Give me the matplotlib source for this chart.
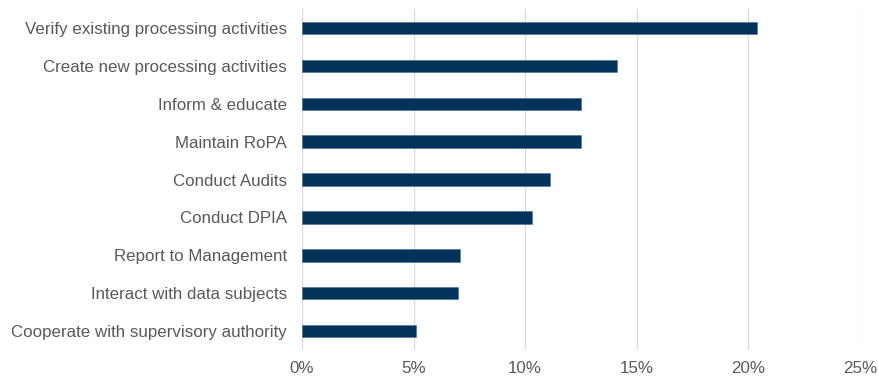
import matplotlib
matplotlib.use('Agg')
import matplotlib.pyplot as plt
from matplotlib.ticker import FuncFormatter

# survey categories, top to bottom
activities = [
    'Verify existing processing activities',
    'Create new processing activities',
    'Inform & educate',
    'Maintain RoPA',
    'Conduct Audits',
    'Conduct DPIA',
    'Report to Management',
    'Interact with data subjects',
    'Cooperate with supervisory authority',
]
shares = [20.4, 14.1, 12.5, 12.5, 11.1, 10.3, 7.1, 7.0, 5.1]
xticks = [0, 5, 10, 15, 20, 25]

plt.rcParams['font.family'] = ['Liberation Sans', 'DejaVu Sans']

fig = plt.figure(figsize=(8.79, 3.79), dpi=100)
ax = fig.add_axes([0.3436, 0.0765, 0.6346, 0.8995])

ypos = list(range(len(activities)))
ax.barh(ypos, shares, height=0.33, color='#03325A', edgecolor='#4a6d8c', linewidth=0.4, zorder=3)

ax.set_ylim(len(activities) - 0.5, -0.5)
ax.set_xlim(0, 25)
ax.set_yticks(ypos)
ax.set_yticklabels(activities)
ax.set_xticks(xticks)
ax.xaxis.set_major_formatter(FuncFormatter(lambda v, p: f'{v:.0f}%'))

# vertical grid only, no frame
ax.grid(axis='x', color='#D9D9D9', linewidth=0.9, zorder=0)
for s in ax.spines.values():
    s.set_visible(False)
ax.tick_params(axis='both', length=0, labelsize=12.2, labelcolor='#595959')
ax.tick_params(axis='y', pad=11)
ax.tick_params(axis='x', pad=8)

fig.savefig('out.png', dpi=100)
